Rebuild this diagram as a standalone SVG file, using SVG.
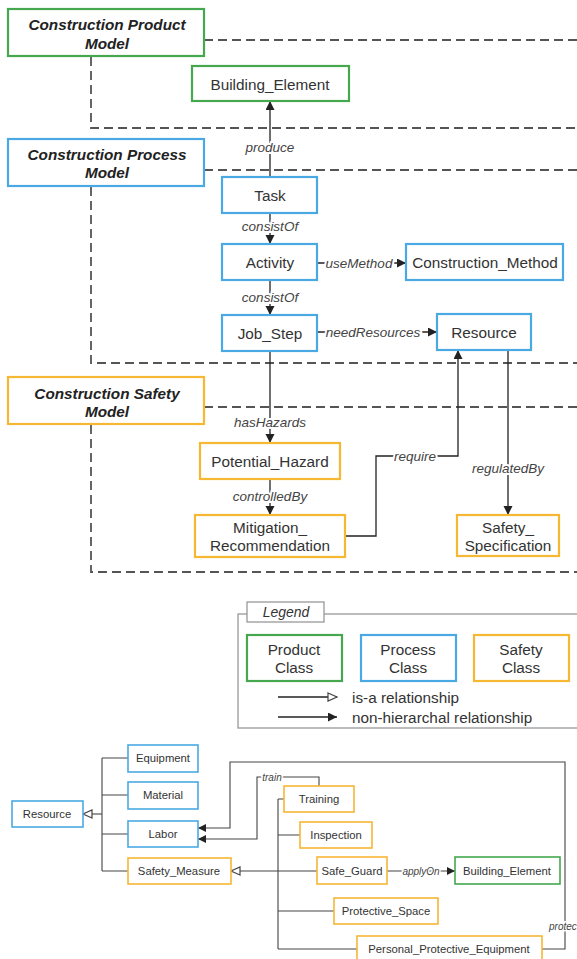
<svg xmlns="http://www.w3.org/2000/svg" width="577" height="959" viewBox="0 0 577 959">
<style>
text{font-family:"Liberation Sans",Arial,sans-serif;fill:#333;text-anchor:middle;dominant-baseline:central}
.title{font-weight:bold;font-style:italic;font-size:15.3px;fill:#222}
.node{font-size:15.3px}
.leg{font-size:15.3px}
.sm{font-size:11.3px}
.el{font-style:italic;font-size:13.5px;fill:#444;paint-order:stroke;stroke:#fff;stroke-width:4px}
.els{font-style:italic;font-size:10px;fill:#444;paint-order:stroke;stroke:#fff;stroke-width:3px}
.g{fill:#fff;stroke:#45a84f;stroke-width:2.2}
.b{fill:#fff;stroke:#4aa9e3;stroke-width:2.2}
.o{fill:#fff;stroke:#f6b733;stroke-width:2.2}
.gs{fill:#fff;stroke:#45a84f;stroke-width:1.6}
.bs{fill:#fff;stroke:#4aa9e3;stroke-width:1.6}
.os{fill:#fff;stroke:#f6b733;stroke-width:1.6}
.dash{fill:none;stroke:#555;stroke-width:1.8;stroke-dasharray:9,5}
.c{fill:none;stroke:#222;stroke-width:1.3}
.cs{fill:none;stroke:#444;stroke-width:1.1}
</style>
<defs>
<marker id="af" markerUnits="userSpaceOnUse" markerWidth="10" markerHeight="10" refX="9" refY="4.5" orient="auto"><path d="M0,0 L9,4.5 L0,9 z" fill="#222"/></marker>
<marker id="afs" markerUnits="userSpaceOnUse" markerWidth="9" markerHeight="9" refX="8" refY="4" orient="auto"><path d="M0,0 L8,4 L0,8 z" fill="#222"/></marker>
<marker id="ah" markerUnits="userSpaceOnUse" markerWidth="12" markerHeight="12" refX="10" refY="5" orient="auto"><path d="M1,1 L10,5 L1,9 z" fill="#fff" stroke="#444" stroke-width="1.2"/></marker>
</defs>

<g id="regions">
<path class="dash" d="M204,40 H577 M91,57 V128 H577"/>
<path class="dash" d="M204,170 H577 M91,187 V363 H577"/>
<path class="dash" d="M204,407 H577 M91,425 V572 H577"/>
</g>

<g id="connectors">
<path class="c" d="M270,177 V101" marker-end="url(#af)"/>
<text class="el" x="270" y="147">produce</text>
<path class="c" d="M270,213 V244" marker-end="url(#af)"/>
<text class="el" x="270" y="226">consistOf</text>
<path class="c" d="M270,280 V315" marker-end="url(#af)"/>
<text class="el" x="270" y="297">consistOf</text>
<path class="c" d="M317,263 H406" marker-end="url(#af)"/>
<text class="el" x="359" y="263">useMethod</text>
<path class="c" d="M317,332 H437" marker-end="url(#af)"/>
<text class="el" x="373" y="332">needResources</text>
<path class="c" d="M270,351 V443" marker-end="url(#af)"/>
<text class="el" x="270" y="422">hasHazards</text>
<path class="c" d="M270,479 V515" marker-end="url(#af)"/>
<text class="el" x="270" y="496">controlledBy</text>
<path class="c" d="M345,536 H376 V456 H458 V350" marker-end="url(#af)"/>
<text class="el" x="415" y="456">require</text>
<path class="c" d="M508,350 V515" marker-end="url(#af)"/>
<text class="el" x="508" y="468">regulatedBy</text>

<path class="c" d="M278,697 H337" marker-end="url(#ah)"/>
<path class="c" d="M278,717 H337" marker-end="url(#af)"/>

<path class="cs" d="M102,758 V871 M102,758 H128 M102,795 H128 M102,834 H128 M102,871 H128"/>
<path class="cs" d="M102,814 H83" marker-end="url(#ah)"/>
<path class="cs" d="M542,949 H565 V762 H230 V828 H198" marker-end="url(#afs)"/>
<path class="cs" d="M319,786 V777 H257 V839 H198" marker-end="url(#afs)"/>
<text class="els" x="272" y="777">train</text>
<path class="cs" d="M278,799 V949 M278,799 H284 M278,835 H300 M278,911 H334 M278,949 H357"/>
<path class="cs" d="M317,871 H231" marker-end="url(#ah)"/>
<path class="cs" d="M387,871 H455" marker-end="url(#afs)"/>
<text class="els" x="421" y="871">applyOn</text>
<text class="els" x="549" y="926" style="text-anchor:start">protec</text>
</g>

<g id="productModel"><rect class="g" x="8" y="9" width="196" height="47"/><text class="title" x="107" y="24">Construction Product</text><text class="title" x="107" y="43">Model</text></g>
<g id="processModel"><rect class="b" x="8" y="139" width="196" height="47"/><text class="title" x="107" y="154">Construction Process</text><text class="title" x="107" y="172">Model</text></g>
<g id="safetyModel"><rect class="o" x="8" y="377" width="196" height="47"/><text class="title" x="107" y="393">Construction Safety</text><text class="title" x="107" y="411">Model</text></g>

<g id="buildingElement"><rect class="g" x="192" y="66" width="157" height="35"/><text class="node" x="270" y="84">Building_Element</text></g>
<g id="task"><rect class="b" x="222" y="177" width="95" height="36"/><text class="node" x="270" y="195">Task</text></g>
<g id="activity"><rect class="b" x="222" y="244" width="95" height="36"/><text class="node" x="270" y="262">Activity</text></g>
<g id="constructionMethod"><rect class="b" x="406" y="244" width="157" height="36"/><text class="node" x="485" y="262">Construction_Method</text></g>
<g id="jobStep"><rect class="b" x="222" y="315" width="95" height="36"/><text class="node" x="270" y="333">Job_Step</text></g>
<g id="resource"><rect class="b" x="437" y="314" width="94" height="36"/><text class="node" x="484" y="332">Resource</text></g>
<g id="potentialHazard"><rect class="o" x="200" y="443" width="140" height="36"/><text class="node" x="270" y="461">Potential_Hazard</text></g>
<g id="mitigation"><rect class="o" x="195" y="515" width="150" height="42"/><text class="node" x="270" y="527">Mitigation_</text><text class="node" x="270" y="545">Recommendation</text></g>
<g id="safetySpec"><rect class="o" x="457" y="515" width="102" height="41"/><text class="node" x="508" y="527">Safety_</text><text class="node" x="508" y="545">Specification</text></g>

<g id="legend">
<rect x="238" y="614" width="350" height="114" fill="none" stroke="#999" stroke-width="1.3"/>
<rect x="247" y="602" width="77" height="20" fill="#fff" stroke="#999" stroke-width="1.3"/>
<text x="286" y="612" style="font-style:italic;font-size:14px">Legend</text>
<g id="legendProduct"><rect class="g" x="247" y="635" width="95" height="46"/><text class="leg" x="294" y="649">Product</text><text class="leg" x="294" y="667">Class</text></g>
<g id="legendProcess"><rect class="b" x="361" y="635" width="95" height="46"/><text class="leg" x="408" y="649">Process</text><text class="leg" x="408" y="667">Class</text></g>
<g id="legendSafety"><rect class="o" x="474" y="635" width="95" height="46"/><text class="leg" x="521" y="649">Safety</text><text class="leg" x="521" y="667">Class</text></g>
<text class="leg" x="352" y="697" style="text-anchor:start">is-a relationship</text>
<text class="leg" x="352" y="717" style="text-anchor:start">non-hierarchal relationship</text>
</g>

<g id="resource2"><rect class="bs" x="12" y="801" width="71" height="26"/><text class="sm" x="47" y="814">Resource</text></g>
<g id="equipment"><rect class="bs" x="128" y="745" width="70" height="27"/><text class="sm" x="163" y="758">Equipment</text></g>
<g id="material"><rect class="bs" x="128" y="782" width="70" height="27"/><text class="sm" x="163" y="795">Material</text></g>
<g id="labor"><rect class="bs" x="128" y="821" width="70" height="26"/><text class="sm" x="163" y="834">Labor</text></g>
<g id="safetyMeasure"><rect class="os" x="128" y="858" width="103" height="26"/><text class="sm" x="179" y="871">Safety_Measure</text></g>
<g id="training"><rect class="os" x="284" y="786" width="70" height="26"/><text class="sm" x="319" y="799">Training</text></g>
<g id="inspection"><rect class="os" x="300" y="822" width="72" height="26"/><text class="sm" x="336" y="835">Inspection</text></g>
<g id="safeGuard"><rect class="os" x="317" y="857" width="70" height="27"/><text class="sm" x="352" y="871">Safe_Guard</text></g>
<g id="buildingElement2"><rect class="gs" x="455" y="857" width="105" height="27"/><text class="sm" x="507" y="871">Building_Element</text></g>
<g id="protectiveSpace"><rect class="os" x="334" y="898" width="104" height="26"/><text class="sm" x="386" y="911">Protective_Space</text></g>
<g id="ppe"><rect class="os" x="357" y="936" width="185" height="26"/><text class="sm" x="449" y="949">Personal_Protective_Equipment</text></g>
</svg>
